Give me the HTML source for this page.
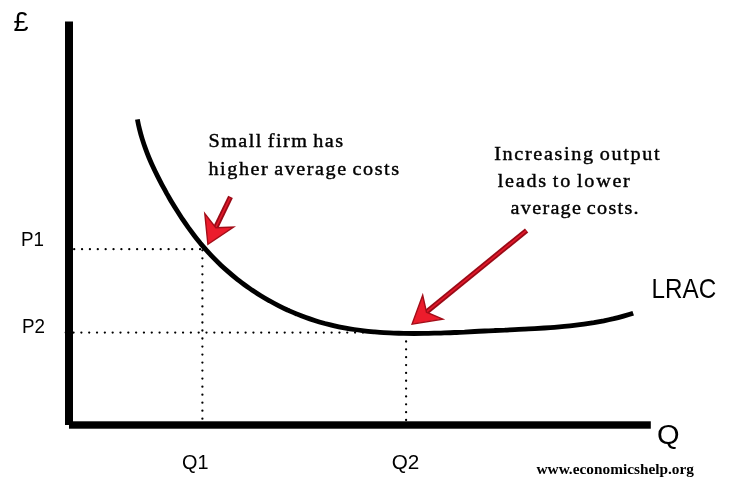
<!DOCTYPE html>
<html lang="en">
<head>
<meta charset="utf-8">
<title>LRAC economies of scale</title>
<style>
html,body{margin:0;padding:0;background:#fff;}
svg{display:block;will-change:transform;}
.sans{font-family:"Liberation Sans",sans-serif;fill:#000;}
.serif{font-family:"Liberation Serif",serif;fill:#000;stroke:#000;stroke-width:0.42px;}
</style>
</head>
<body>
<svg width="732" height="483" viewBox="0 0 732 483">
<rect width="732" height="483" fill="#fff"/>
<!-- dotted guide lines -->
<g stroke="#000" stroke-width="2.3" fill="none" stroke-linecap="round">
<line x1="74.2" y1="249.2" x2="201" y2="249.2" stroke-dasharray="0 7.866"/>
<line x1="65.75" y1="332.6" x2="407" y2="332.6" stroke-dasharray="0 7.82"/>
<line x1="202.4" y1="250.3" x2="202.4" y2="420" stroke-dasharray="0 8.02"/>
<line x1="406.1" y1="341.5" x2="406.1" y2="421" stroke-dasharray="0 7.85"/>
</g>
<!-- axes -->
<rect x="65" y="21.5" width="8" height="403.5" fill="#000"/>
<rect x="69" y="421.3" width="581.8" height="7.4" fill="#000"/>
<!-- LRAC curve -->
<path d="M137.4 119.4 C138.0 122.7 138.7 126.0 139.5 129.2 C140.3 132.5 141.2 135.7 142.2 138.9 C143.2 142.1 144.2 145.2 145.4 148.4 C146.5 151.5 147.7 154.6 149.0 157.7 C150.3 160.8 151.6 163.8 153.0 166.8 C154.4 169.9 155.9 172.9 157.4 175.9 C158.9 178.9 160.4 181.8 162.0 184.8 C163.6 187.7 165.2 190.7 166.8 193.6 C168.5 196.5 170.1 199.4 171.8 202.3 C173.5 205.1 175.3 208.0 177.1 210.8 C178.9 213.6 180.7 216.4 182.5 219.2 C184.4 222.0 186.3 224.7 188.2 227.4 C190.2 230.1 192.2 232.8 194.2 235.5 C196.2 238.1 198.3 240.7 200.4 243.3 C202.6 245.8 204.7 248.4 207.0 250.8 C209.2 253.3 211.5 255.8 213.8 258.2 C216.1 260.6 218.5 262.9 220.9 265.2 C223.4 267.5 225.9 269.7 228.4 271.9 C230.9 274.1 233.5 276.3 236.1 278.4 C238.7 280.5 241.4 282.5 244.1 284.5 C246.8 286.5 249.6 288.4 252.3 290.3 C255.1 292.2 258.0 294.0 260.8 295.7 C263.7 297.5 266.6 299.2 269.5 300.8 C272.4 302.5 275.4 304.1 278.4 305.6 C281.3 307.1 284.4 308.6 287.4 310.0 C290.4 311.3 293.5 312.7 296.6 313.9 C299.7 315.2 302.8 316.4 305.9 317.5 C309.0 318.7 312.2 319.7 315.4 320.7 C318.5 321.7 321.7 322.6 324.9 323.5 C328.1 324.3 331.3 325.1 334.5 325.8 C337.8 326.6 341.0 327.2 344.3 327.8 C347.5 328.4 350.8 329.0 354.1 329.5 C357.3 330.0 360.6 330.4 363.9 330.8 C367.2 331.2 370.5 331.5 373.8 331.8 C377.2 332.1 380.5 332.4 383.8 332.6 C387.1 332.8 390.5 333.0 393.8 333.1 C397.2 333.2 400.5 333.3 403.9 333.4 C407.2 333.5 410.6 333.5 414.0 333.5 C417.3 333.5 420.7 333.5 424.1 333.4 C427.4 333.4 430.8 333.3 434.2 333.2 C437.6 333.2 440.9 333.0 444.3 332.9 C447.7 332.8 451.1 332.7 454.4 332.5 C457.8 332.4 461.2 332.2 464.5 332.1 C467.9 331.9 471.3 331.7 474.6 331.5 C478.0 331.4 481.4 331.2 484.7 331.0 C488.1 330.9 491.4 330.7 494.8 330.5 C498.1 330.4 501.4 330.2 504.8 330.1 C508.1 329.9 511.4 329.8 514.7 329.6 C518.0 329.5 521.3 329.3 524.7 329.1 C528.0 329.0 531.3 328.8 534.6 328.6 C537.9 328.4 541.2 328.2 544.5 328.0 C547.8 327.8 551.1 327.6 554.3 327.3 C557.6 327.0 560.9 326.7 564.2 326.4 C567.5 326.1 570.8 325.8 574.1 325.4 C577.4 325.0 580.7 324.6 584.0 324.1 C587.3 323.6 590.6 323.1 593.9 322.6 C597.2 322.0 600.5 321.4 603.8 320.8 C607.1 320.1 610.4 319.4 613.7 318.7 C617.0 317.9 620.3 317.0 623.5 316.1 C626.8 315.2 630.0 314.3 633.2 313.2" fill="none" stroke="#000" stroke-width="4.8" stroke-linecap="butt" stroke-linejoin="round"/>
<!-- arrow 1 -->
<g>
<line x1="230.5" y1="196.8" x2="214.5" y2="230" stroke="#9a0a16" stroke-width="5.2"/>
<line x1="230.0" y1="197.9" x2="214.5" y2="230" stroke="#e2192b" stroke-width="1.7"/>
<polygon points="207.9,244.3 204.8,213.6 215.8,227.8 233.6,227.0" fill="#ec1c2c" stroke="#a30d18" stroke-width="1.4" stroke-linejoin="miter"/>
</g>
<!-- arrow 2 -->
<g>
<line x1="526.6" y1="230.4" x2="425" y2="313.2" stroke="#9a0a16" stroke-width="5.2"/>
<line x1="526.0" y1="230.9" x2="425" y2="313.2" stroke="#e2192b" stroke-width="1.7"/>
<polygon points="412.1,324.1 422.7,295.3 426.5,312.2 442.8,319.1" fill="#ec1c2c" stroke="#a30d18" stroke-width="1.4" stroke-linejoin="miter"/>
</g>
<!-- labels -->
<text class="sans" x="13.5" y="31.4" font-size="28" textLength="15" lengthAdjust="spacingAndGlyphs">£</text>
<text class="sans" x="21" y="246.3" font-size="20" textLength="23" lengthAdjust="spacingAndGlyphs">P1</text>
<text class="sans" x="22" y="333.3" font-size="20" textLength="23" lengthAdjust="spacingAndGlyphs">P2</text>
<text class="sans" x="182" y="468.6" font-size="20" textLength="26.5" lengthAdjust="spacingAndGlyphs">Q1</text>
<text class="sans" x="391.7" y="468.6" font-size="20" textLength="27.6" lengthAdjust="spacingAndGlyphs">Q2</text>
<text class="sans" x="657" y="444" font-size="27" textLength="22.6" lengthAdjust="spacingAndGlyphs">Q</text>
<text class="sans" x="651.6" y="297.5" font-size="28" textLength="64.6" lengthAdjust="spacingAndGlyphs">LRAC</text>
<text class="serif" transform="translate(208.50 147.00) scale(1.050 1)" font-size="19.2" word-spacing="-1.6" textLength="128.10">Small firm has</text>
<text class="serif" transform="translate(208.50 174.50) scale(1.050 1)" font-size="19.2" word-spacing="-1.6" textLength="181.43">higher average costs</text>
<text class="serif" transform="translate(494.20 159.70) scale(1.050 1)" font-size="19.2" word-spacing="-1.6" textLength="157.62">Increasing output</text>
<text class="serif" transform="translate(497.80 186.80) scale(1.050 1)" font-size="19.2" word-spacing="-1.6" textLength="125.71">leads to lower</text>
<text class="serif" transform="translate(510.60 214.20) scale(1.050 1)" font-size="19.2" word-spacing="-1.6" textLength="121.90">average costs.</text>
<text class="serif" x="536.5" y="474.4" font-size="14.4" font-weight="bold" style="stroke:none" textLength="157.5" lengthAdjust="spacingAndGlyphs">www.economicshelp.org</text>
</svg>
</body>
</html>
